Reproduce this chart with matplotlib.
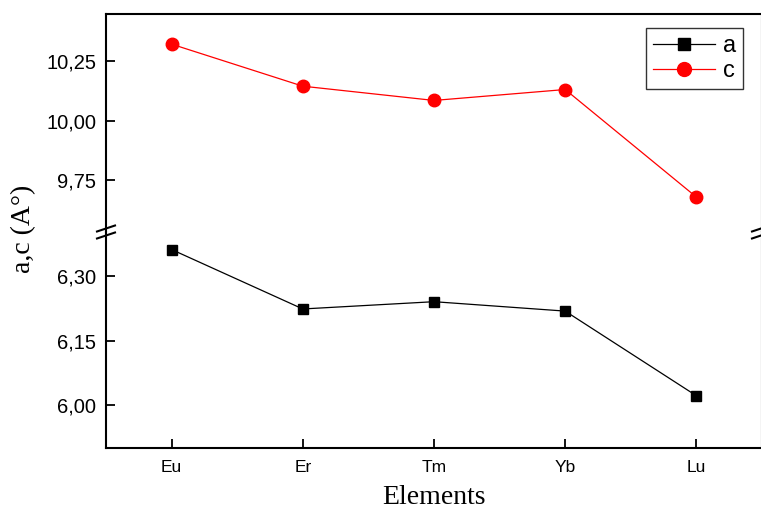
import matplotlib
matplotlib.use("Agg")
import matplotlib.pyplot as plt
from matplotlib.lines import Line2D

elements = ["Eu", "Er", "Tm", "Yb", "Lu"]
a_vals = [6.363, 6.224, 6.241, 6.219, 6.021]
c_vals = [10.322, 10.145, 10.085, 10.131, 9.678]
top_ticks = [9.75, 10.00, 10.25]
top_labels = ["9,75", "10,00", "10,25"]
bot_ticks = [6.00, 6.15, 6.30]
bot_labels = ["6,00", "6,15", "6,30"]

W, H = 761, 511
fig = plt.figure(figsize=(W / 100, H / 100), dpi=100)

left = 106 / W
right = 762 / W
y_top = 1 - 14 / H
y_brk = 1 - 232 / H
y_bot = 1 - 447.5 / H

ax_t = fig.add_axes([left, y_brk, right - left, y_top - y_brk])
ax_b = fig.add_axes([left, y_bot, right - left, y_brk - y_bot], sharex=ax_t)

x = list(range(1, len(elements) + 1))

ax_t.plot(x, c_vals, color="red", lw=0.9, marker="o", ms=9, label="c", zorder=3)
ax_b.plot(x, a_vals, color="black", lw=0.9, marker="s", ms=7, label="a", zorder=3)

ax_t.set_ylim(9.531, 10.449)
ax_b.set_ylim(5.900, 6.404)
ax_b.set_xlim(0.5, 5.5)

tick_font = dict(family="Liberation Sans", size=14.5)
ax_t.set_yticks(top_ticks)
ax_t.set_yticklabels(top_labels, **tick_font)
ax_b.set_yticks(bot_ticks)
ax_b.set_yticklabels(bot_labels, **tick_font)
ax_b.set_xticks(x)
ax_b.set_xticklabels(elements, family="Liberation Sans", size=12.5)

for ax in (ax_t, ax_b):
    for s in ax.spines.values():
        s.set_linewidth(1.5)
    ax.tick_params(direction="in", length=6.5, width=1.3, pad=7)
    ax.tick_params(axis="x", pad=9)

ax_t.spines["bottom"].set_visible(False)
ax_b.spines["top"].set_visible(False)
ax_t.tick_params(axis="x", which="both", bottom=False, top=False, labelbottom=False)
ax_b.tick_params(axis="x", top=False)
ax_t.tick_params(axis="y", right=False)
ax_b.tick_params(axis="y", right=False)

# break marks (figure pixel coordinates)
def brk(xc):
    for dy in (-3.5, 3.5):
        ys = 232 + dy
        fig.add_artist(Line2D([(xc - 9) / W, (xc + 9) / W],
                              [1 - (ys + 3) / H, 1 - (ys - 3) / H],
                              color="black", lw=1.5, transform=fig.transFigure))

brk(106)
brk(761)

fig.text(434 / W, 1 - 498 / H, "Elements", family="Liberation Serif", size=20,
         ha="center", va="center")
fig.text(24 / W, 1 - 229 / H, "a,c (A°)", family="Liberation Serif", size=20,
         rotation=90, ha="center", va="center")

handles = [Line2D([], [], color="black", lw=0.9, marker="s", ms=8),
           Line2D([], [], color="red", lw=0.9, marker="o", ms=10)]
leg = fig.legend(handles, ["a", "c"], loc="upper right",
                 bbox_to_anchor=(743 / W, 1 - 28 / H),
                 prop=dict(family="Liberation Sans", size=17),
                 frameon=True, fancybox=False, edgecolor="black",
                 handlelength=2.6, borderpad=0.3, labelspacing=0.12,
                 handletextpad=0.35, borderaxespad=0)
leg.get_frame().set_linewidth(1.0)

fig.savefig("out.png", dpi=100)
